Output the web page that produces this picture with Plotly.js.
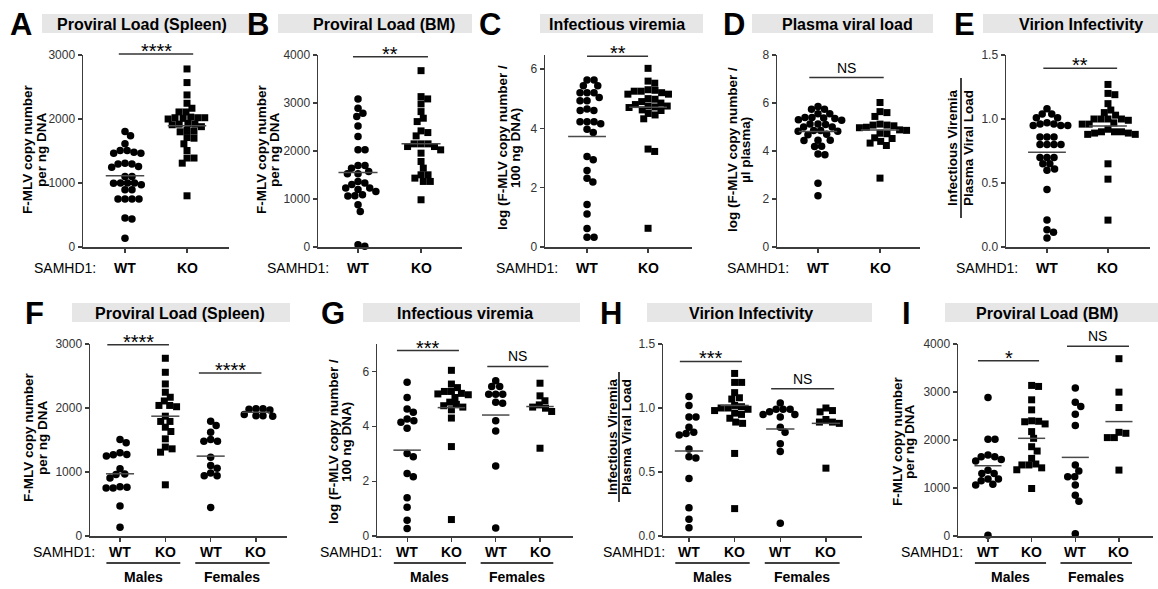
<!DOCTYPE html>
<html><head><meta charset="utf-8">
<script src="https://cdn.plot.ly/plotly-3.0.1.min.js"></script>
<style>html,body{margin:0;padding:0;background:#fff;}#chart{width:1158px;height:589px;}</style>
</head><body><div id="chart"></div>
<script>
// ---------- labels ----------
const genotypes = ['WT', 'KO'];
const sexes = ['Males', 'Females'];
const groupLabel = 'SAMHD1:';
const panelLetters = ['A','B','C','D','E','F','G','H','I'];
const panelTitles = ['Proviral Load (Spleen)','Proviral Load (BM)','Infectious viremia','Plasma viral load','Virion Infectivity','Proviral Load (Spleen)','Infectious viremia','Virion Infectivity','Proviral Load (BM)'];
const yTitleProviral = ['F-MLV copy number', 'per ng DNA'];
const yTitleViremia = ['log (F-MLV copy number /', '100 ng DNA)'];
const yTitlePlasma = ['log (F-MLV copy number /', 'µl plasma)'];
const yTitleRatio = ['Infectious Viremia', 'Plasma Viral Load'];

// ---------- data ----------
const A_WT = [1804,1737,1612,1508,1482,1466,1466,1508,1295,1295,1310,1258,1248,1102,1102,1000,998,1000,972,1000,894,894,749,749,749,749,452,437,135];
const A_KO = [2782,2569,2376,2246,2168,2110,2110,2030,2020,2020,2010,2000,2020,1930,1920,1910,1920,1880,1820,1810,1800,1710,1700,1612,1508,1390,1390,1310,800];
const A_MEAN = [1113, 1893];
const A_SIG = ['****'];

const B_WT = [3085,2891,2787,2717,2523,2301,2024,2024,1698,1698,1643,1574,1525,1525,1366,1331,1300,1227,1227,1200,1158,1088,1070,1060,880,742,49,14];
const B_KO = [3674,3133,3085,2981,2821,2683,2613,2419,2384,2315,2149,2149,2149,2093,2093,2024,1955,1781,1643,1504,1504,1435,1366,1366,984];
const B_MEAN = [1553, 2149];
const B_SIG = ['**'];

const C_WT = [5.63,5.63,5.43,5.43,5.2,5.2,5.2,5.04,4.93,4.93,4.65,4.6,4.6,4.22,4.22,4.15,4.22,3.97,3.86,3.05,2.94,2.58,2.32,2.19,1.43,1.11,0.62,0.33,0.33];
const C_KO = [6.02,5.59,5.52,5.3,5.28,5.25,5.25,5.2,5.15,5.15,5.0,4.98,4.9,4.85,4.8,4.75,4.75,4.72,4.7,4.62,4.6,4.5,4.45,4.32,3.3,3.22,0.63];
const C_MEAN = [3.72, 4.71];
const C_SIG = ['**'];

const D_WT = [5.85,5.74,5.74,5.55,5.55,5.38,5.4,5.3,5.35,5.4,5.28,5.12,5.12,5.1,5.0,5.0,4.85,4.82,4.82,4.85,4.7,4.68,4.45,4.44,4.45,4.2,4.19,3.84,3.88,2.66,2.14];
const D_KO = [6.02,5.64,5.6,5.44,5.12,5.08,5.05,5.08,4.99,4.97,4.88,4.86,4.74,4.72,4.55,4.52,4.4,4.33,4.23,2.87];
const D_MEAN = [4.81, 4.88];
const D_SIG = ['NS'];

const E_WT = [1.08,1.04,1.04,1.01,1.01,0.97,0.96,0.95,0.95,0.95,0.96,0.86,0.86,0.86,0.8,0.8,0.8,0.8,0.7,0.7,0.7,0.65,0.65,0.6,0.61,0.45,0.21,0.135,0.115,0.07];
const E_KO = [1.27,1.2,1.19,1.12,1.07,1.05,1.03,1.0,1.0,1.0,1.0,0.99,0.97,0.96,0.96,0.92,0.9,0.9,0.9,0.89,0.89,0.88,0.88,0.65,0.53,0.21];
const E_MEAN = [0.74, 0.946];
const E_SIG = ['**'];

const F_WT_M = [1508,1456,1300,1250,1270,1275,1050,970,960,905,760,770,750,750,468,135];
const F_KO_M = [2777,2558,2376,2246,2168,2110,2040,2040,2020,1872,1790,1790,1700,1633,1518,1390,1362,1310,800];
const F_WT_F = [1794,1726,1622,1482,1482,1508,1232,1102,1060,983,940,940,447];
const F_KO_F = [1990,1980,1990,1970,1880,1870,1880,1900];
const F_MEAN = [972, 1872, 1248, 1934];
const F_SIG = ['****', '****'];

const G_WT_M = [5.61,5.05,4.63,4.51,4.27,4.15,4.2,3.93,3.01,2.89,2.28,2.16,1.39,1.05,0.57,0.27];
const G_KO_M = [6.04,5.54,5.41,5.27,5.27,5.2,5.18,5.15,5.05,4.88,4.8,4.75,4.7,4.6,4.3,3.26,0.6];
const G_WT_F = [5.66,5.45,5.45,5.17,5.17,5.17,4.88,4.84,4.2,3.83,2.55,0.29];
const G_KO_F = [5.57,5.11,4.93,4.78,4.7,4.66,4.54,3.2];
const G_MEAN = [3.13, 4.68, 4.41, 4.72];
const G_SIG = ['***', 'NS'];

const H_WT_M = [1.09,1.02,0.93,0.93,0.85,0.81,0.8,0.79,0.68,0.62,0.61,0.45,0.22,0.13,0.065];
const H_KO_M = [1.27,1.2,1.2,1.12,1.08,1.07,1.02,1.0,1.0,1.01,0.99,0.98,0.96,0.95,0.92,0.89,0.88,0.645,0.214];
const H_WT_F = [1.04,0.99,0.99,0.99,0.97,0.95,0.95,0.93,0.85,0.81,0.72,0.66,0.1];
const H_KO_F = [1.0,0.98,0.97,0.91,0.89,0.89,0.88,0.53];
const H_MEAN = [0.664, 1.02, 0.836, 0.88];
const H_SIG = ['***', 'NS'];

const I_WT_M = [2886,2014,2014,1650,1687,1650,1596,1560,1300,1370,1300,1185,1185,1150,1080,1060,14];
const I_KO_M = [3137,3116,2837,2628,2400,2390,2380,2335,2175,2035,1860,1770,1617,1500,1480,1480,1420,1380,990];
const I_WT_F = [3081,2788,2697,2537,2300,1478,1352,1234,1234,1060,850,725,49];
const I_KO_F = [3694,2997,2676,2160,2140,2050,2050,1373];
const I_MEAN = [1464, 2035, 1638, 2384];
const I_SIG = ['*', 'NS'];

// ---------- layout geometry (pixels) ----------
const W = 1158, H = 589;
const FONT = 'Liberation Sans, Arial, Helvetica, sans-serif';
const TOP = {yd:[55,247], box:[14,33], titleY:24, catY:268};
const BOT = {yd:[344,536], box:[303,322], titleY:313, catY:552, lineY:563, sexY:577};

const panels = [
 {row:TOP, xd:[83,229], xr:[0.323,2.677], yr:[0,3000], tv:[0,1000,2000,3000], fmt:'d', box:[42,263], tcx:142, lcx:21, yt:yTitleProviral, ytx:[28,42], yty:150, sam:98,
  groups:[[A_WT,'circle'],[A_KO,'square']], mean:A_MEAN, sig:A_SIG, br:[[0.9,2.1,3016]]},
 {row:TOP, xd:[318,462], xr:[0.365,2.65], yr:[0,4000], tv:[0,1000,2000,3000,4000], fmt:'d', box:[278,472], tcx:384, lcx:258, yt:yTitleProviral, ytx:[262,275], yty:150, sam:331,
  groups:[[B_WT,'circle'],[B_KO,'square']], mean:B_MEAN, sig:B_SIG, br:[[0.92,2.11,3965]]},
 {row:TOP, xd:[545,692], xr:[0.311,2.72], yr:[0,6.47], tv:[0,2,4,6], fmt:'d', box:[540,703], tcx:617, lcx:490, yt:yTitleViremia, ytx:[503,516], yty:148, sam:560,
  groups:[[C_WT,'circle'],[C_KO,'square']], mean:C_MEAN, sig:C_SIG, br:[[1.0,2.0,6.43]]},
 {row:TOP, xd:[777,920], xr:[0.339,2.645], yr:[0,8], tv:[0,2,4,6,8], fmt:'d', box:[752,933], tcx:847, lcx:734, yt:yTitlePlasma, ytx:[733,746], yty:150, sam:791,
  groups:[[D_WT,'circle'],[D_KO,'square']], mean:D_MEAN, sig:D_SIG, br:[[0.86,2.06,7.06]]},
 {row:TOP, xd:[1006,1150], xr:[0.328,2.689], yr:[0,1.5], tv:[0,0.5,1,1.5], fmt:'.1f', box:[983,1158], tcx:1081, lcx:964, yt:yTitleRatio, ytx:[953,969], yty:148, frac:[961,78,218], sam:1020,
  groups:[[E_WT,'circle'],[E_KO,'square']], mean:E_MEAN, sig:E_SIG, br:[[0.94,2.15,1.396]]},
 {row:BOT, xd:[90,287], xr:[0.338,4.684], yr:[0,3000], tv:[0,1000,2000,3000], fmt:'d', box:[72,290], tcx:180, lcx:34, yt:yTitleProviral, ytx:[28,42], yty:438, sam:97,
  groups:[[F_WT_M,'circle'],[F_KO_M,'square'],[F_WT_F,'circle'],[F_KO_F,'circle']], mean:F_MEAN, sig:F_SIG, br:[[0.72,2.08,2990],[2.74,4.12,2548]]},
 {row:BOT, xd:[377,573], xr:[0.32,4.745], yr:[0,7], tv:[0,2,4,6], fmt:'d', box:[363,580], tcx:465, lcx:333, yt:yTitleViremia, ytx:[333,346], yty:442, sam:384,
  groups:[[G_WT_M,'circle'],[G_KO_M,'square'],[G_WT_F,'circle'],[G_KO_F,'square']], mean:G_MEAN, sig:G_SIG, br:[[0.77,2.17,6.76],[2.81,4.19,6.18]]},
 {row:BOT, xd:[663,862], xr:[0.431,4.79], yr:[0,1.5], tv:[0,0.5,1,1.5], fmt:'.1f', box:[647,872], tcx:751, lcx:611, yt:yTitleRatio, ytx:[612,626], yty:437, frac:[619,372,502], sam:667,
  groups:[[H_WT_M,'circle'],[H_KO_M,'square'],[H_WT_F,'circle'],[H_KO_F,'square']], mean:H_MEAN, sig:H_SIG, br:[[0.8,2.16,1.364],[2.8,4.18,1.15]]},
 {row:BOT, xd:[958,1153], xr:[0.313,4.78], yr:[0,4000], tv:[0,1000,2000,3000,4000], fmt:'d', box:[945,1158], tcx:1047, lcx:906, yt:yTitleProviral, ytx:[897,909], yty:442, sam:965,
  groups:[[I_WT_M,'circle'],[I_KO_M,'square'],[I_WT_F,'circle'],[I_KO_F,'square']], mean:I_MEAN, sig:I_SIG, br:[[0.77,2.17,3652],[2.81,4.23,3952]]}
];

const fx = px => px / W;
const fy = py => 1 - py / H;

// simple beeswarm: horizontal offsets (data units) so markers do not overlap
function swarm(vals, pxX, pxY, D) {
  const order = vals.map((v, i) => i).sort((a, b) => vals[b] - vals[a]);
  const placed = [];
  const off = new Array(vals.length).fill(0);
  order.forEach(i => {
    const y = vals[i] * pxY;
    const near = placed.filter(p => Math.abs(p.y - y) < D);
    const cands = [0];
    near.forEach(p => { const dx = Math.sqrt(D * D - (p.y - y) * (p.y - y)); cands.push(p.x + dx, p.x - dx); });
    cands.sort((a, b) => Math.abs(a) - Math.abs(b) || b - a);
    let chosen = 0;
    for (const c of cands) {
      if (near.every(p => (p.x - c) * (p.x - c) + (p.y - y) * (p.y - y) >= D * D - 1e-6)) { chosen = c; break; }
    }
    placed.push({x: chosen, y});
    off[i] = chosen / pxX;
  });
  return off;
}

const traces = [], shapes = [], annotations = [];
const layout = {
  width: W, height: H, margin: {l:0, r:0, t:0, b:0},
  paper_bgcolor: '#fff', plot_bgcolor: 'rgba(0,0,0,0)',
  showlegend: false, font: {family: FONT, color: '#000'},
  shapes, annotations
};
const AX = '#3c3c3c';

panels.forEach((p, k) => {
  const n = k + 1, sfx = n === 1 ? '' : String(n);
  const xa = 'x' + sfx, ya = 'y' + sfx;
  const pxX = (p.xd[1] - p.xd[0]) / (p.xr[1] - p.xr[0]);
  const pxY = (p.row.yd[1] - p.row.yd[0]) / (p.yr[1] - p.yr[0]);
  const px2paperX = v => fx(p.xd[0] + (v - p.xr[0]) * pxX);
  const px2paperY = v => fy(p.row.yd[1] - (v - p.yr[0]) * pxY);
  const cats = p.groups.map((g, i) => i + 1);

  layout['xaxis' + sfx] = {
    domain: [fx(p.xd[0]), fx(p.xd[1])], anchor: ya, range: p.xr, tickvals: cats,
    showticklabels: false, ticks: 'outside', ticklen: 4, tickwidth: 1.2, tickcolor: AX,
    showline: true, linecolor: AX, linewidth: 1.5, zeroline: false, showgrid: false, fixedrange: true
  };
  layout['yaxis' + sfx] = {
    domain: [fy(p.row.yd[1]), fy(p.row.yd[0])], anchor: xa, range: p.yr, tickvals: p.tv, tickformat: p.fmt,
    ticks: 'outside', ticklen: 4, tickwidth: 1.2, tickcolor: AX, tickfont: {size: 12, color: '#333', family: FONT},
    showline: true, linecolor: AX, linewidth: 1.5, zeroline: false, showgrid: false, fixedrange: true
  };

  // points and mean lines
  p.groups.forEach((g, i) => {
    const vals = g[0], c = i + 1;
    const off = swarm(vals, pxX, pxY, 7.0);
    traces.push({
      type: 'scatter', mode: 'markers', xaxis: xa, yaxis: ya, cliponaxis: false,
      x: vals.map((v, j) => c + off[j]), y: vals,
      marker: {symbol: g[1], size: g[1] === 'square' ? 7 : 7.5, color: '#000', line: {width: 0}},
      hoverinfo: 'y'
    });
    traces.push({
      type: 'scatter', mode: 'lines', xaxis: xa, yaxis: ya, hoverinfo: 'skip',
      x: [c - 0.31, c + 0.31], y: [p.mean[i], p.mean[i]],
      line: {color: '#4a4a4a', width: 1.5}
    });
    annotations.push({
      x: c, xref: xa, y: fy(p.row.catY), yref: 'paper', text: '<b>' + genotypes[i % 2] + '</b>',
      showarrow: false, xanchor: 'center', yanchor: 'middle', font: {size: 14, color: '#000'}
    });
  });

  // SAMHD1 label
  annotations.push({
    x: fx(p.sam), xref: 'paper', y: fy(p.row.catY), yref: 'paper', text: groupLabel,
    showarrow: false, xanchor: 'right', yanchor: 'middle', font: {size: 14, color: '#000'}
  });

  // sex group underline + labels
  if (p.groups.length === 4) {
    [[0.7, 2.33], [2.66, 4.3]].forEach((r, i) => {
      shapes.push({type: 'line', xref: 'paper', yref: 'paper', x0: px2paperX(r[0]), x1: px2paperX(r[1]),
        y0: fy(p.row.lineY), y1: fy(p.row.lineY), line: {color: '#000', width: 1.3}});
      annotations.push({x: px2paperX((r[0] + r[1]) / 2), xref: 'paper', y: fy(p.row.sexY), yref: 'paper',
        text: '<b>' + sexes[i] + '</b>', showarrow: false, xanchor: 'center', yanchor: 'middle', font: {size: 14, color: '#000'}});
    });
  }

  // significance brackets
  p.br.forEach((b, i) => {
    const yy = px2paperY(b[2]);
    shapes.push({type: 'line', xref: 'paper', yref: 'paper', x0: px2paperX(b[0]), x1: px2paperX(b[1]), y0: yy, y1: yy,
      line: {color: '#333', width: 1.5}});
    const isStar = p.sig[i].indexOf('*') >= 0;
    annotations.push({x: px2paperX((b[0] + b[1]) / 2), xref: 'paper', y: yy, yref: 'paper', text: p.sig[i],
      showarrow: false, xanchor: 'center', yanchor: 'bottom', yshift: isStar ? -10 : 0,
      font: {size: isStar ? 20 : 14, color: '#000'}});
  });

  // title bar
  shapes.push({type: 'rect', xref: 'paper', yref: 'paper', x0: fx(p.box[0]), x1: fx(p.box[1]),
    y0: fy(p.row.box[1]), y1: fy(p.row.box[0]), fillcolor: '#e6e6e6', line: {width: 0}, layer: 'below'});
  annotations.push({x: fx(p.tcx), xref: 'paper', y: fy(p.row.titleY), yref: 'paper', text: '<b>' + panelTitles[k] + '</b>',
    showarrow: false, xanchor: 'center', yanchor: 'middle', font: {size: 16, color: '#000'}});
  annotations.push({x: fx(p.lcx), xref: 'paper', y: fy(p.row.titleY), yref: 'paper', text: '<b>' + panelLetters[k] + '</b>',
    showarrow: false, xanchor: 'center', yanchor: 'middle', font: {size: 31, color: '#000'}});

  // y-axis title (two rotated lines)
  p.yt.forEach((t, i) => {
    annotations.push({x: fx(p.ytx[i]), xref: 'paper', y: fy(p.yty), yref: 'paper', text: '<b>' + t + '</b>',
      textangle: -90, showarrow: false, xanchor: 'center', yanchor: 'middle', font: {size: 13.5, color: '#000'}});
  });
  if (p.frac) {
    shapes.push({type: 'line', xref: 'paper', yref: 'paper', x0: fx(p.frac[0]), x1: fx(p.frac[0]),
      y0: fy(p.frac[1]), y1: fy(p.frac[2]), line: {color: '#000', width: 1.5}});
  }
});

Plotly.newPlot('chart', traces, layout, {displayModeBar: false, staticPlot: true});
</script>
</body></html>
